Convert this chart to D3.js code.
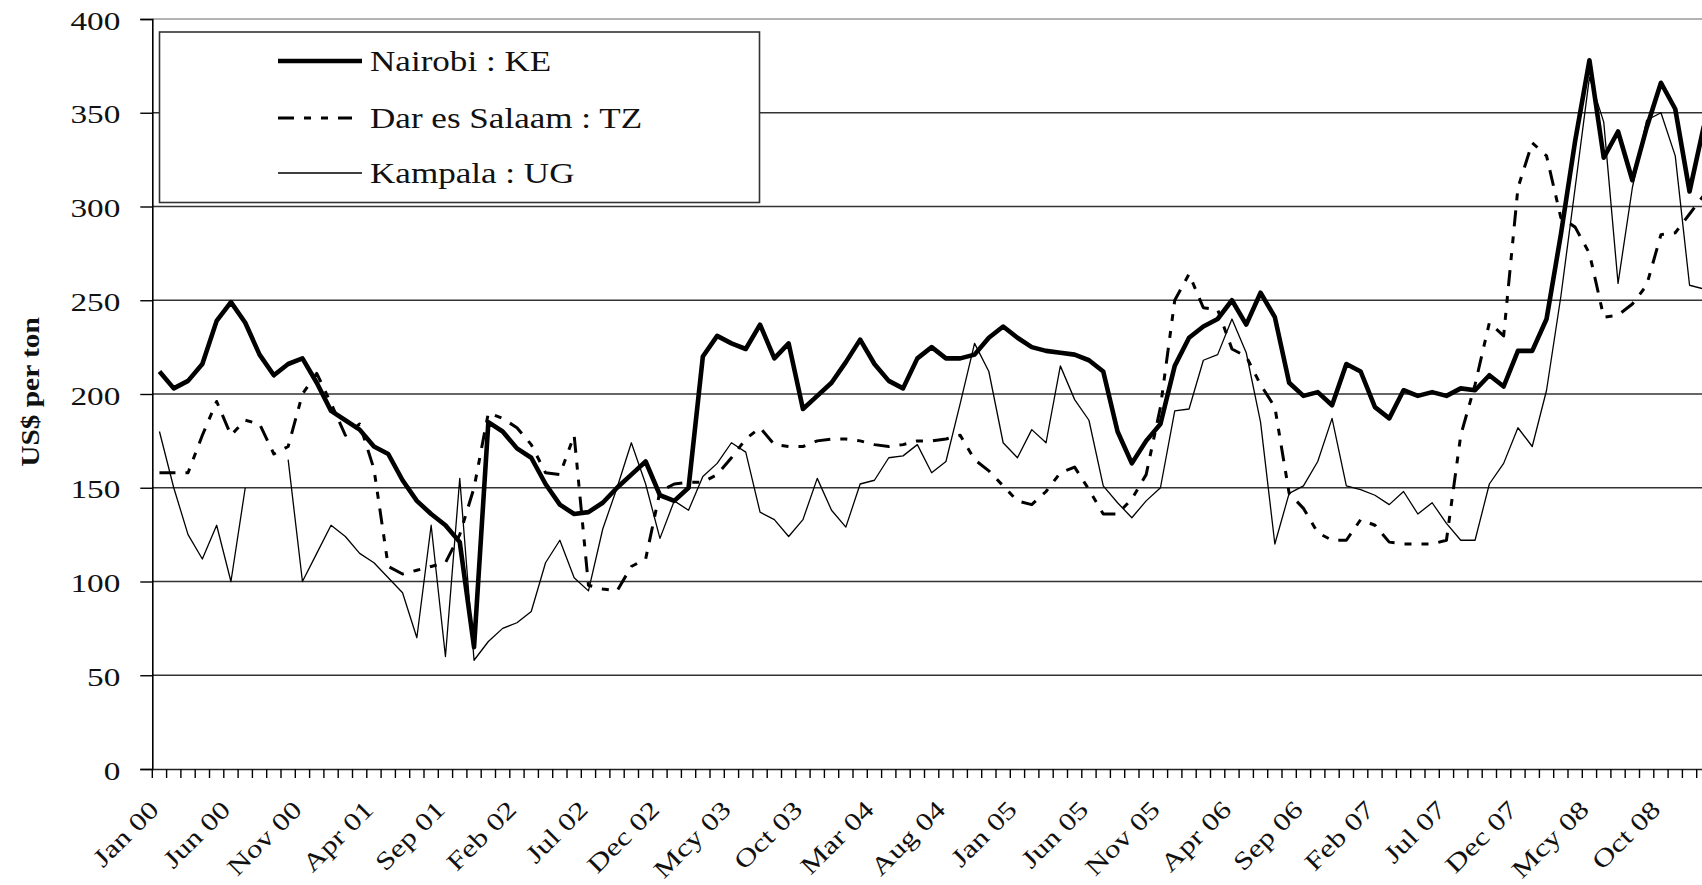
<!DOCTYPE html>
<html>
<head>
<meta charset="utf-8">
<script src="https://cdn.jsdelivr.net/npm/d3@7"></script>
<style>
  html, body { margin: 0; padding: 0; background: #fff; overflow: hidden; }
  svg { display: block; }
  svg text { font-family: "Liberation Serif", "Times New Roman", Times, serif !important; fill: #111; }
</style>
</head>
<body>
<svg id="chart" width="1702" height="885"></svg>
<script>
// ---------------- data ----------------
const monthNames = ["Jan","Feb","Mar","Apr","May","Jun","Jul","Aug","Sep","Oct","Nov","Dec"];
const years = ["00","01","02","03","04","05","06","07","08","09"];
const tickLabels = ["Jan 00","Jun 00","Nov 00","Apr 01","Sep 01","Feb 02","Jul 02","Dec 02","Mcy 03","Oct 03",
  "Mar 04","Aug 04","Jan 05","Jun 05","Nov 05","Apr 06","Sep 06","Feb 07","Jul 07","Dec 07","Mcy 08","Oct 08"];
const yTicks = [0,50,100,150,200,250,300,350,400];

const nairobi = [212,203,207,216,239,249,238,221,210,216,219,206,
  191,186,181,172,168,154,143,136,130,121,65,185,
  180,171,166,152,141,136,137,142,150,157,164,146,
  143,150,220,231,227,224,237,219,227,192,199,206,
  217,229,216,207,203,219,225,219,219,221,230,236,
  230,225,223,222,221,218,212,180,163,175,184,215,
  230,236,240,250,237,254,241,206,199,201,194,216,
  212,193,187,202,199,201,199,203,202,210,204,223,
  223,240,285,335,378,326,340,314,342,366,352,308,
  343];
const darEsSalaam = [158,158,158,178,196,178,186,184,168,172,200,211,
  195,178,184,160,108,104,106,108,110,125,150,190,
  187,182,173,158,157,178,98,96,95,108,112,148,
  152,153,153,157,166,176,182,173,172,172,175,176,
  176,175,173,172,173,175,175,176,178,165,159,151,
  143,141,148,158,161,149,136,136,144,157,193,250,
  264,246,245,224,220,205,193,147,139,126,122,122,
  133,130,121,120,120,120,122,178,205,238,231,310,
  334,327,294,289,275,241,242,248,258,285,286,296,
  306];
const kampala = [180,150,125,112,130,100,150,null,null,165,100,115,
  130,124,115,110,102,94,70,130,60,155,58,68,
  75,78,84,110,122,102,95,128,150,174,152,123,
  143,138,156,163,174,169,137,133,124,133,155,138,
  129,152,154,166,167,173,158,164,195,227,212,174,
  166,181,174,215,197,186,151,142,134,143,150,191,
  192,218,221,240,222,185,120,147,151,164,187,151,
  149,146,141,148,136,142,131,122,122,152,163,182,
  172,202,252,310,369,345,259,310,346,350,327,258,
  256];

const seriesNames = ["Nairobi : KE","Dar es Salaam : TZ","Kampala : UG"];
const yTitle = "US$ per ton";

// ---------------- layout ----------------
const W = 1702, H = 885;
const plotLeft = 152.3, plotTop = 19, plotBottom = 769;
const monthW = 14.3;
const nMonthsAxis = 110;

const categories = [];
for (let i = 0; i < nMonthsAxis; i++) {
  categories.push(monthNames[i % 12] + " " + years[Math.floor(i / 12)]);
}
const labelFor = {};
tickLabels.forEach((t, k) => { labelFor[categories[k * 5]] = t; });

const svg = d3.select("#chart");

const x = d3.scaleBand().domain(categories)
  .range([plotLeft, plotLeft + nMonthsAxis * monthW]).paddingInner(0).paddingOuter(0);
const y = d3.scaleLinear().domain([0, 400]).range([plotBottom, plotTop]);
const cx = c => x(c) + x.bandwidth() / 2;

// grid lines
svg.append("g").selectAll("line").data(yTicks.filter(v => v > 0)).join("line")
  .attr("x1", plotLeft).attr("x2", W + 40)
  .attr("y1", d => y(d)).attr("y2", d => y(d))
  .attr("stroke", d => d === 400 ? "#9a9a9a" : "#333")
  .attr("stroke-width", 1.4);

// y axis
const yAxis = d3.axisLeft(y).tickValues(yTicks).tickSize(12).tickPadding(0).tickFormat(d3.format("d"));
const gy = svg.append("g").attr("transform", `translate(${plotLeft},0)`).call(yAxis);
gy.attr("font-family", null).attr("font-size", null);
gy.select(".domain").attr("stroke", "#000").attr("stroke-width", 1.6);
gy.selectAll(".tick line").attr("stroke", "#000").attr("stroke-width", 1.4);
gy.selectAll(".tick text").remove();
gy.selectAll(".tick").append("text")
  .attr("text-anchor", "end")
  .attr("transform", "translate(-32,10) scale(1.28,1)")
  .style("font-size", "26px")
  .text(d => d);

// x axis
const xAxis = d3.axisBottom(x).tickSize(0).tickFormat("");
const gx = svg.append("g").attr("transform", `translate(0,${plotBottom})`).call(xAxis);
gx.select(".domain").attr("stroke", "#222").attr("stroke-width", 1.6);
gx.selectAll(".tick").remove();
// tick marks at category boundaries
svg.append("g").selectAll("line").data(categories).join("line")
  .attr("x1", d => x(d)).attr("x2", d => x(d))
  .attr("y1", plotBottom).attr("y2", plotBottom + 9)
  .attr("stroke", "#000").attr("stroke-width", 1.4);
// labels
svg.append("g").selectAll("text").data(categories.filter(c => labelFor[c])).join("text")
  .attr("text-anchor", "end")
  .attr("transform", d => `translate(${cx(d) + 1},${plotBottom + 42}) rotate(-45) scale(1.26,1)`)
  .style("font-size", "25px")
  .text(d => labelFor[d]);

// y title
svg.append("text")
  .attr("text-anchor", "middle")
  .attr("transform", `translate(39,392) rotate(-90) scale(1.13,1)`)
  .style("font-size", "26px").style("font-weight", "bold")
  .text(yTitle);

// lines
const line = d3.line()
  .defined(d => d.v !== null)
  .x(d => cx(d.c)).y(d => y(d.v));
const toPts = arr => arr.map((v, i) => ({ c: categories[i], v }));

const styles = [
  { data: nairobi, w: 4.6, dash: null },
  { data: darEsSalaam, w: 3, dash: "16,10,7,10,7,10" },
  { data: kampala, w: 1.3, dash: null }
];
const plot = svg.append("g");
[2, 1, 0].forEach(k => {
  const s = styles[k];
  plot.append("path")
    .attr("d", line(toPts(s.data)))
    .attr("fill", "none")
    .attr("stroke", "#000")
    .attr("stroke-width", s.w)
    .attr("stroke-linejoin", "round")
    .attr("stroke-dasharray", s.dash);
});

// legend
const lg = svg.append("g");
lg.append("rect").attr("x", 159.5).attr("y", 32).attr("width", 600).attr("height", 170.5)
  .attr("fill", "#fff").attr("stroke", "#333").attr("stroke-width", 1.6);
const legY = [61, 118, 173];
seriesNames.forEach((name, k) => {
  const s = styles[k];
  lg.append("line").attr("x1", 278).attr("x2", k === 1 ? 352 : 362).attr("y1", legY[k]).attr("y2", legY[k])
    .attr("stroke", "#000").attr("stroke-width", s.w).attr("stroke-dasharray", s.dash);
  lg.append("text")
    .attr("transform", `translate(370,${legY[k] + 10}) scale(1.17,1)`)
    .style("font-size", "30px")
    .text(name);
});
</script>
</body>
</html>
